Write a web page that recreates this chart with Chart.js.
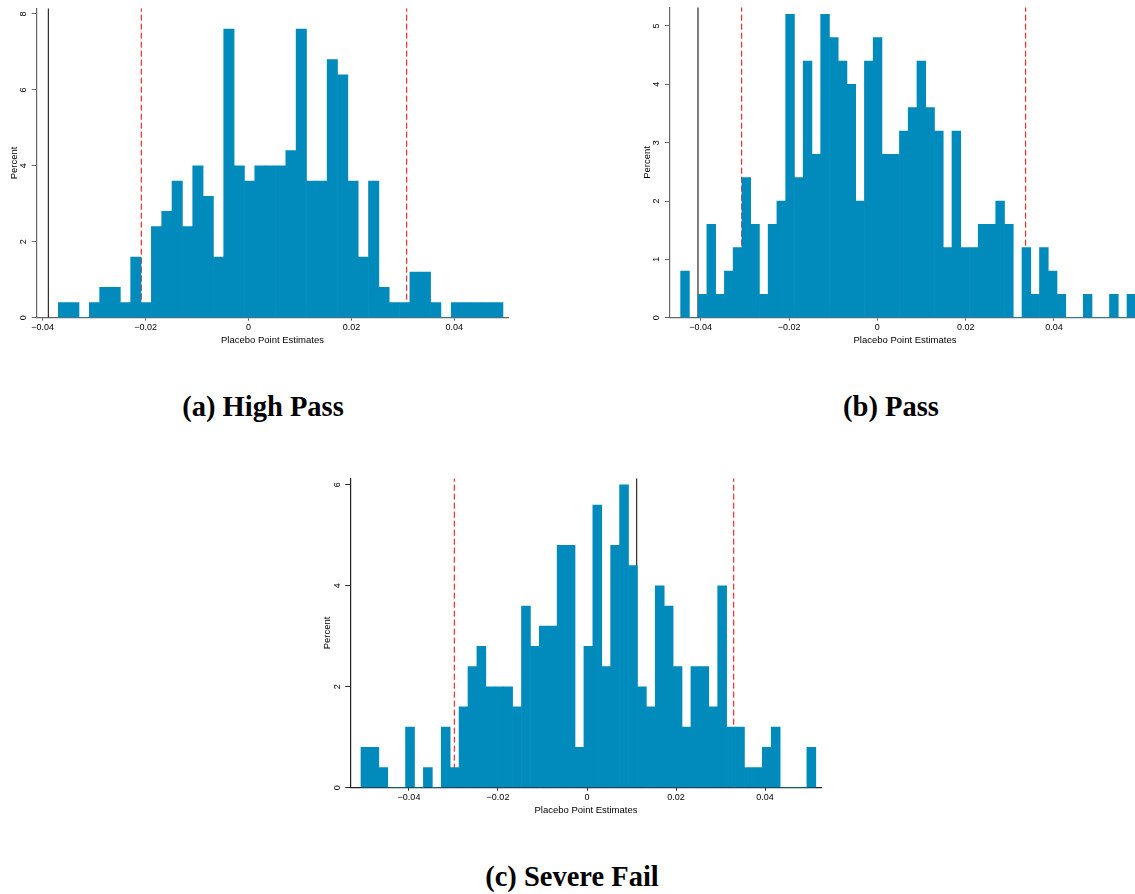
<!DOCTYPE html>
<html>
<head>
<meta charset="utf-8">
<script src="https://cdn.jsdelivr.net/npm/chart.js@4"></script>
<style>
html, body { margin: 0; padding: 0; width: 1135px; height: 894px; overflow: hidden; background: #fff; }
canvas { position: absolute; }
.caption { position: absolute; font-family: 'Liberation Serif', 'Times New Roman', serif; font-weight: bold;
  font-size: 28.5px; line-height: 1; white-space: nowrap; transform: translateX(-50%); color: #000; }
</style>
</head>
<body>
<canvas id="histA"></canvas>
<canvas id="histB"></canvas>
<canvas id="histC"></canvas>
<div class="caption" style="left:263px;top:393px">(a) High Pass</div>
<div class="caption" style="left:891px;top:393px">(b) Pass</div>
<div class="caption" style="left:572px;top:863px">(c) Severe Fail</div>
<script>
// percent of placebo estimates per bin, left to right
const percentA = [0.4, 0.4, 0, 0.4, 0.8, 0.8, 0.4, 1.6, 0.4, 2.4, 2.8, 3.6, 2.4, 4.0, 3.2, 1.6, 7.6, 4.0, 3.6,
  4.0, 4.0, 4.0, 4.4, 7.6, 3.6, 3.6, 6.8, 6.4, 3.6, 1.6, 3.6, 0.8, 0.4, 0.4, 1.2, 1.2, 0.4, 0, 0.4, 0.4, 0.4, 0.4, 0.4];
const percentB = [0.8, 0, 0.4, 1.6, 0.4, 0.8, 1.2, 2.4, 1.6, 0.4, 1.6, 2.0, 5.2, 2.4, 4.4, 2.8, 5.2, 4.8, 4.4, 4.0, 2.0, 4.4, 4.8,
  2.8, 2.8, 3.2, 3.6, 4.4, 3.6, 3.2, 1.2, 3.2, 1.2, 1.2, 1.6, 1.6, 2.0, 1.6, 0, 1.2, 0.4, 1.2, 0.8, 0.4, 0, 0, 0.4, 0, 0, 0.4, 0, 0.4];
const percentC = [0.8, 0.8, 0.4, 0, 0, 1.2, 0, 0.4, 0, 1.2, 0.4, 1.6, 2.4, 2.8, 2.0, 2.0, 2.0, 1.6, 3.6, 2.8, 3.2, 3.2, 4.8, 4.8,
  0.8, 2.8, 5.6, 2.4, 4.8, 6.0, 4.4, 2.0, 1.6, 4.0, 3.6, 2.4, 1.2, 2.4, 2.4, 1.6, 4.0, 1.2, 1.2, 0.4, 0.4, 0.8, 1.2, 0, 0, 0, 0.8];

// histogram bins: left edge of first bin and bin width
const binStartA = -0.03697, binWidthA = 0.00201;
const binStartB = -0.04454, binWidthB = 0.001982;
const binStartC = -0.05079, binWidthC = 0.002004;

// reference lines: actual estimate (solid) and 5/95 bounds (dashed)
const estimateA = -0.03891, boundsA = [-0.02084, 0.03075];
const estimateB = -0.04061, boundsB = [-0.03072, 0.03359];
const estimateC = 0.01117, boundsC = [-0.02982, 0.03297];

// axes
const xRangeA = [-0.04117, 0.0505], yMaxA = 8.15;
const xRangeB = [-0.04695, 0.05948], yMaxB = 5.32;
const xRangeC = [-0.05319, 0.05274], yMaxC = 6.13;
const xTicks = [-0.04, -0.02, 0, 0.02, 0.04];
const xTickLabels = ['\u22120.04', '\u22120.02', '0', '0.02', '0.04'];
const yTicksA = [0, 2, 4, 6, 8];
const yTicksB = [0, 1, 2, 3, 4, 5];
const yTicksC = [0, 2, 4, 6];

const barColor = 'rgb(0,139,188)';
Chart.defaults.font.family = "'Liberation Sans', Arial, sans-serif";
Chart.defaults.color = '#000';

function drawHist(id, frame, percent, binStart, binWidth, xRange, yMax, yTicks, estimate, bounds, axisColor) {
  const canvas = document.getElementById(id);
  canvas.width = frame.w;
  canvas.height = frame.h;
  canvas.style.left = frame.x + 'px';
  canvas.style.top = frame.y + 'px';

  const bars = percent.map((p, i) => ({x: binStart + (i + 0.5) * binWidth, y: p}));
  const vline = (at, color, dash) => ({
    type: 'line', data: [{x: at, y: 0}, {x: at, y: yMax}],
    borderColor: color, borderWidth: 1, borderDash: dash, pointRadius: 0, order: 1
  });

  new Chart(canvas, {
    type: 'bar',
    data: {
      datasets: [
        {data: bars, backgroundColor: barColor, borderWidth: 0, barPercentage: 1, categoryPercentage: 1, order: 0},
        vline(estimate, '#000', []),
        vline(bounds[0], 'rgb(255,0,0)', [6, 3]),
        vline(bounds[1], 'rgb(255,0,0)', [6, 3])
      ]
    },
    options: {
      responsive: false,
      animation: false,
      layout: {padding: {top: frame.padTop, right: frame.padRight, left: 0, bottom: 0}},
      plugins: {legend: {display: false}, tooltip: {enabled: false}},
      scales: {
        x: {
          type: 'linear', min: xRange[0], max: xRange[1], offset: false,
          afterBuildTicks: s => { s.ticks = xTicks.map(v => ({value: v})); },
          afterFit: s => { s.height = frame.xAxisH; s.paddingLeft = 0; s.paddingRight = 0; },
          ticks: {autoSkip: false, maxRotation: 0, padding: 1, font: {size: 9}, callback: (v, i) => xTickLabels[i]},
          grid: {drawOnChartArea: false, tickLength: 3, color: axisColor, offset: false},
          border: {color: axisColor, width: 1.2},
          title: {display: true, text: 'Placebo Point Estimates', font: {size: 9.5}, padding: {top: 0, bottom: 6}}
        },
        y: {
          min: 0, max: yMax,
          afterBuildTicks: s => { s.ticks = yTicks.map(v => ({value: v})); },
          afterFit: s => { s.width = frame.yAxisW; s.paddingTop = 0; s.paddingBottom = 0; },
          ticks: {minRotation: 90, maxRotation: 90, crossAlign: 'center', padding: 5.5, font: {size: 9},
                  callback: v => String(v)},
          grid: {drawOnChartArea: false, tickLength: 5, color: axisColor},
          border: {color: axisColor, width: 1.2},
          title: {display: true, text: 'Percent', font: {size: 9.5}, padding: {top: 8.5, bottom: 0}}
        }
      }
    }
  });
}

drawHist('histA', {x: 0, y: 0, w: 520, h: 352, padTop: 8.3, padRight: 11.7, xAxisH: 34.3, yAxisW: 36.7},
  percentA, binStartA, binWidthA, xRangeA, yMaxA, yTicksA, estimateA, boundsA, '#666');
drawHist('histB', {x: 633, y: 0, w: 520, h: 352, padTop: 7.3, padRight: 13, xAxisH: 34.3, yAxisW: 37},
  percentB, binStartB, binWidthB, xRangeB, yMaxB, yTicksB, estimateB, boundsB, '#666');
drawHist('histC', {x: 313, y: 470, w: 520, h: 352.6, padTop: 8.3, padRight: 11.3, xAxisH: 34.3, yAxisW: 37.3},
  percentC, binStartC, binWidthC, xRangeC, yMaxC, yTicksC, estimateC, boundsC, '#222');
</script>
</body>
</html>
